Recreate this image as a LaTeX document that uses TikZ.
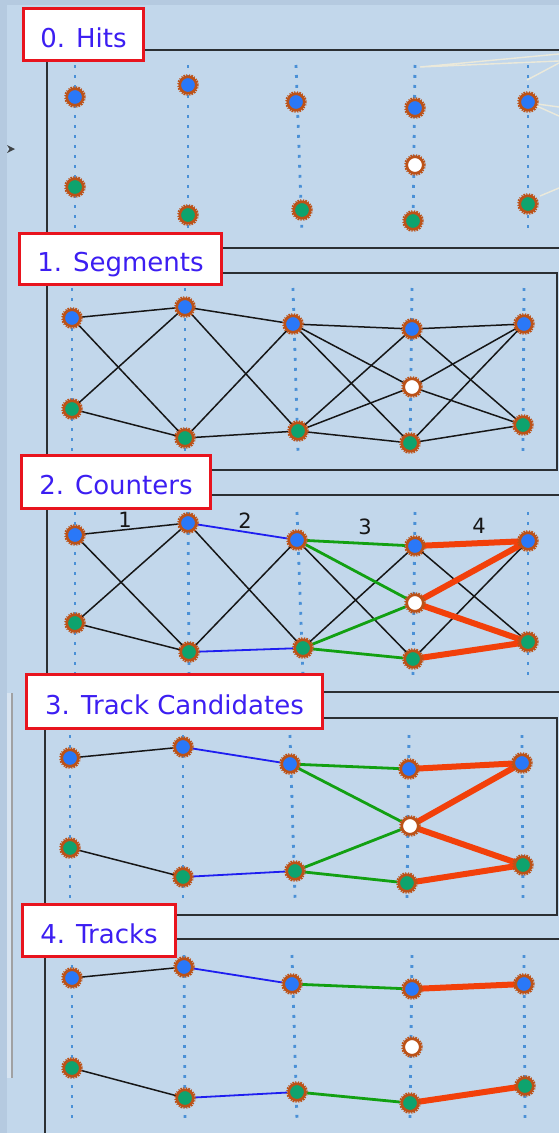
\documentclass[tikz,border=0pt]{standalone}
\usepackage{fontspec}
\newfontfamily\labelfont{DejaVu Sans}
\usetikzlibrary{arrows.meta}
\definecolor{paper}{HTML}{C2D7EB}
\definecolor{edge}{HTML}{B5CAE0}
\definecolor{framegray}{HTML}{2B2F33}
\definecolor{wireblue}{HTML}{4A90D6}
\definecolor{hitblue}{HTML}{2A78F8}
\definecolor{hitgreen}{HTML}{0EA36E}
\definecolor{hitrim}{HTML}{BC5218}
\definecolor{tagred}{HTML}{E8141E}
\definecolor{tagblue}{HTML}{3C1EF2}
\definecolor{segblack}{HTML}{161616}
\definecolor{segblue}{HTML}{1E1EF0}
\definecolor{seggreen}{HTML}{12A012}
\definecolor{segred}{HTML}{F2400A}
\definecolor{ray}{HTML}{F3EDD8}
\pgfdeclarelayer{back}
\pgfdeclarelayer{links}
\pgfsetlayers{back,links,main}

\begin{document}
\begin{tikzpicture}[x=1pt,y=-1pt,
    hit/.style={circle,minimum size=16.5pt,inner sep=0pt,draw=hitrim,line width=2.6pt,
      preaction={draw=hitrim,line width=5.2pt,dash pattern=on 1.1pt off 1.1pt}},
    hitup/.style={hit,fill=hitblue},
    hitdown/.style={hit,fill=hitgreen},
    hitfake/.style={hit,fill=white},
    wire/.style={wireblue,line width=2.8pt,dash pattern=on 2.8pt off 7.2pt},
    frame/.style={draw=framegray,line width=2.2pt},
    tag/.style={draw=tagred,line width=2.8pt,fill=white,text=tagblue,inner sep=0pt,
      font=\labelfont\fontsize{26}{30}\selectfont,text height=25pt,text depth=0pt},
    num/.style={font=\labelfont\fontsize{21}{24}\selectfont,text=segblack,inner sep=0pt},
    seg/.style={segblack,line width=1.5pt},
    two/.style={segblue,line width=1.8pt},
    three/.style={seggreen,line width=2.8pt},
    four/.style={segred,line width=6pt,line cap=round}]
  \clip (0,0) rectangle (559,1133);

  \begin{pgfonlayer}{back}
    \fill[paper] (0,0) rectangle (559,1133);
    \fill[edge] (0,0) rectangle (7,1133);
    \fill[edge] (0,0) rectangle (559,5);
    % side window and its handle
    \fill[white,opacity=.35] (7,693) rectangle (11,1078);
    \draw[framegray!45,line width=2pt] (12,693) -- (12,1078);
    \fill[framegray!90] (7,145) -- (15,149) -- (7,153) -- (9.5,149) -- cycle;
    % panels
    \draw[frame] (47,50) rectangle (575,248);
    \draw[frame] (47,273) rectangle (557,470);
    \draw[frame] (47,495) rectangle (575,692);
    \draw[frame] (45,718) rectangle (557,915);
    \draw[frame] (45,939) rectangle (575,1145);
    % stray light in the first panel
    \draw[ray,line width=1.4pt,opacity=.85] (420,67) -- (559,61) (420,67) -- (559,54)
      (527,80) -- (559,63) (530,103) -- (559,107) (530,103) -- (559,116) (540,196) -- (559,188);
  \end{pgfonlayer}

  % 0. hits
  \foreach \c/\xt/\yt/\xb/\yb in {1/75/97/75/187,2/188/85/188/215,3/296/102/302/210,4/415/108/413/221,5/528/102/528/204}{
    \draw[wire] (\xt,65) -- (\xb,232);
    \node[hitup] (p0t\c) at (\xt,\yt) {};
    \node[hitdown] (p0b\c) at (\xb,\yb) {};
  }
  \node[hitfake] (p0w4) at (415,165) {};

  % 1. segments
  \foreach \c/\xt/\yt/\xb/\yb in {1/72/318/72/409,2/185/307/185/438,3/293/324/298/431,4/412/329/410/443,5/524/324/523/425}{
    \draw[wire] (\xt,288) -- (\xb,452);
    \node[hitup] (p1t\c) at (\xt,\yt) {};
    \node[hitdown] (p1b\c) at (\xb,\yb) {};
  }
  \node[hitfake] (p1w4) at (412,387) {};

  % 2. counters
  \foreach \c/\xt/\yt/\xb/\yb in {1/75/535/75/623,2/188/523/189/652,3/297/540/303/648,4/415/546/413/659,5/528/541/528/642}{
    \draw[wire] (\xt,512) -- (\xb,676);
    \node[hitup] (p2t\c) at (\xt,\yt) {};
    \node[hitdown] (p2b\c) at (\xb,\yb) {};
  }
  \node[hitfake] (p2w4) at (415,603) {};

  % 3. track candidates
  \foreach \c/\xt/\yt/\xb/\yb in {1/70/758/70/848,2/183/747/183/877,3/290/764/295/871,4/409/769/407/883,5/522/763/523/865}{
    \draw[wire] (\xt,735) -- (\xb,898);
    \node[hitup] (p3t\c) at (\xt,\yt) {};
    \node[hitdown] (p3b\c) at (\xb,\yb) {};
  }
  \node[hitfake] (p3w4) at (410,826) {};

  % 4. tracks
  \foreach \c/\xt/\yt/\xb/\yb in {1/72/978/72/1068,2/184/967/185/1098,3/292/984/297/1092,4/412/989/410/1103,5/524/984/525/1086}{
    \draw[wire] (\xt,955) -- (\xb,1120);
    \node[hitup] (p4t\c) at (\xt,\yt) {};
    \node[hitdown] (p4b\c) at (\xb,\yb) {};
  }
  \node[hitfake] (p4w4) at (412,1047) {};

  \begin{pgfonlayer}{links}
    % every pair of neighbouring hits
    \foreach \pa in {t,b}
      \foreach \pb in {t,b}{
        \draw[seg] (p1\pa1) -- (p1\pb2);
        \draw[seg] (p1\pa2) -- (p1\pb3);
        \draw[seg] (p2\pa1) -- (p2\pb2);
      }
    \foreach \pa in {t,b}
      \foreach \pb in {t,w,b}{
        \draw[seg] (p1\pa3) -- (p1\pb4);
        \draw[seg] (p1\pb4) -- (p1\pa5);
      }
    % counters
    \draw[seg] (p2t2) -- (p2b3) (p2b2) -- (p2t3);
    \draw[seg] (p2t3) -- (p2b4) (p2b3) -- (p2t4);
    \draw[seg] (p2t4) -- (p2b5) (p2b4) -- (p2t5);
    \foreach \k in {2,3}{
      \draw[two] (p\k t2) -- (p\k t3);
      \draw[two] (p\k b2) -- (p\k b3);
      \draw[three] (p\k t3) -- (p\k t4) (p\k t3) -- (p\k w4) (p\k b3) -- (p\k w4) (p\k b3) -- (p\k b4);
      \draw[four] (p\k t4) -- (p\k t5) (p\k w4) -- (p\k t5) (p\k w4) -- (p\k b5) (p\k b4) -- (p\k b5);
    }
    % candidates and tracks
    \foreach \k in {3,4}
      \draw[seg] (p\k t1) -- (p\k t2) (p\k b1) -- (p\k b2);
    \draw[two] (p4t2) -- (p4t3) (p4b2) -- (p4b3);
    \draw[three] (p4t3) -- (p4t4) (p4b3) -- (p4b4);
    \draw[four] (p4t4) -- (p4t5) (p4b4) -- (p4b5);
  \end{pgfonlayer}

  \node[num] (n1) at (125,520) {1};
  \node[num] (n2) at (245,521) {2};
  \node[num] (n3) at (365,527) {3};
  \node[num] (n4) at (479,526) {4};

  \node[tag,minimum width=120pt,minimum height=52pt] (t0) at (83.5,34.5) {0. Hits};
  \node[tag,minimum width=202pt,minimum height=51pt] (t1) at (120.5,259) {1. Segments};
  \node[tag,minimum width=189pt,minimum height=53pt] (t2) at (116,482) {2. Counters};
  \node[tag,minimum width=296pt,minimum height=54pt] (t3) at (174.5,701.5) {3. Track Candidates};
  \node[tag,minimum width=153pt,minimum height=52pt] (t4) at (99,930.5) {4. Tracks};
\end{tikzpicture}
\end{document}
